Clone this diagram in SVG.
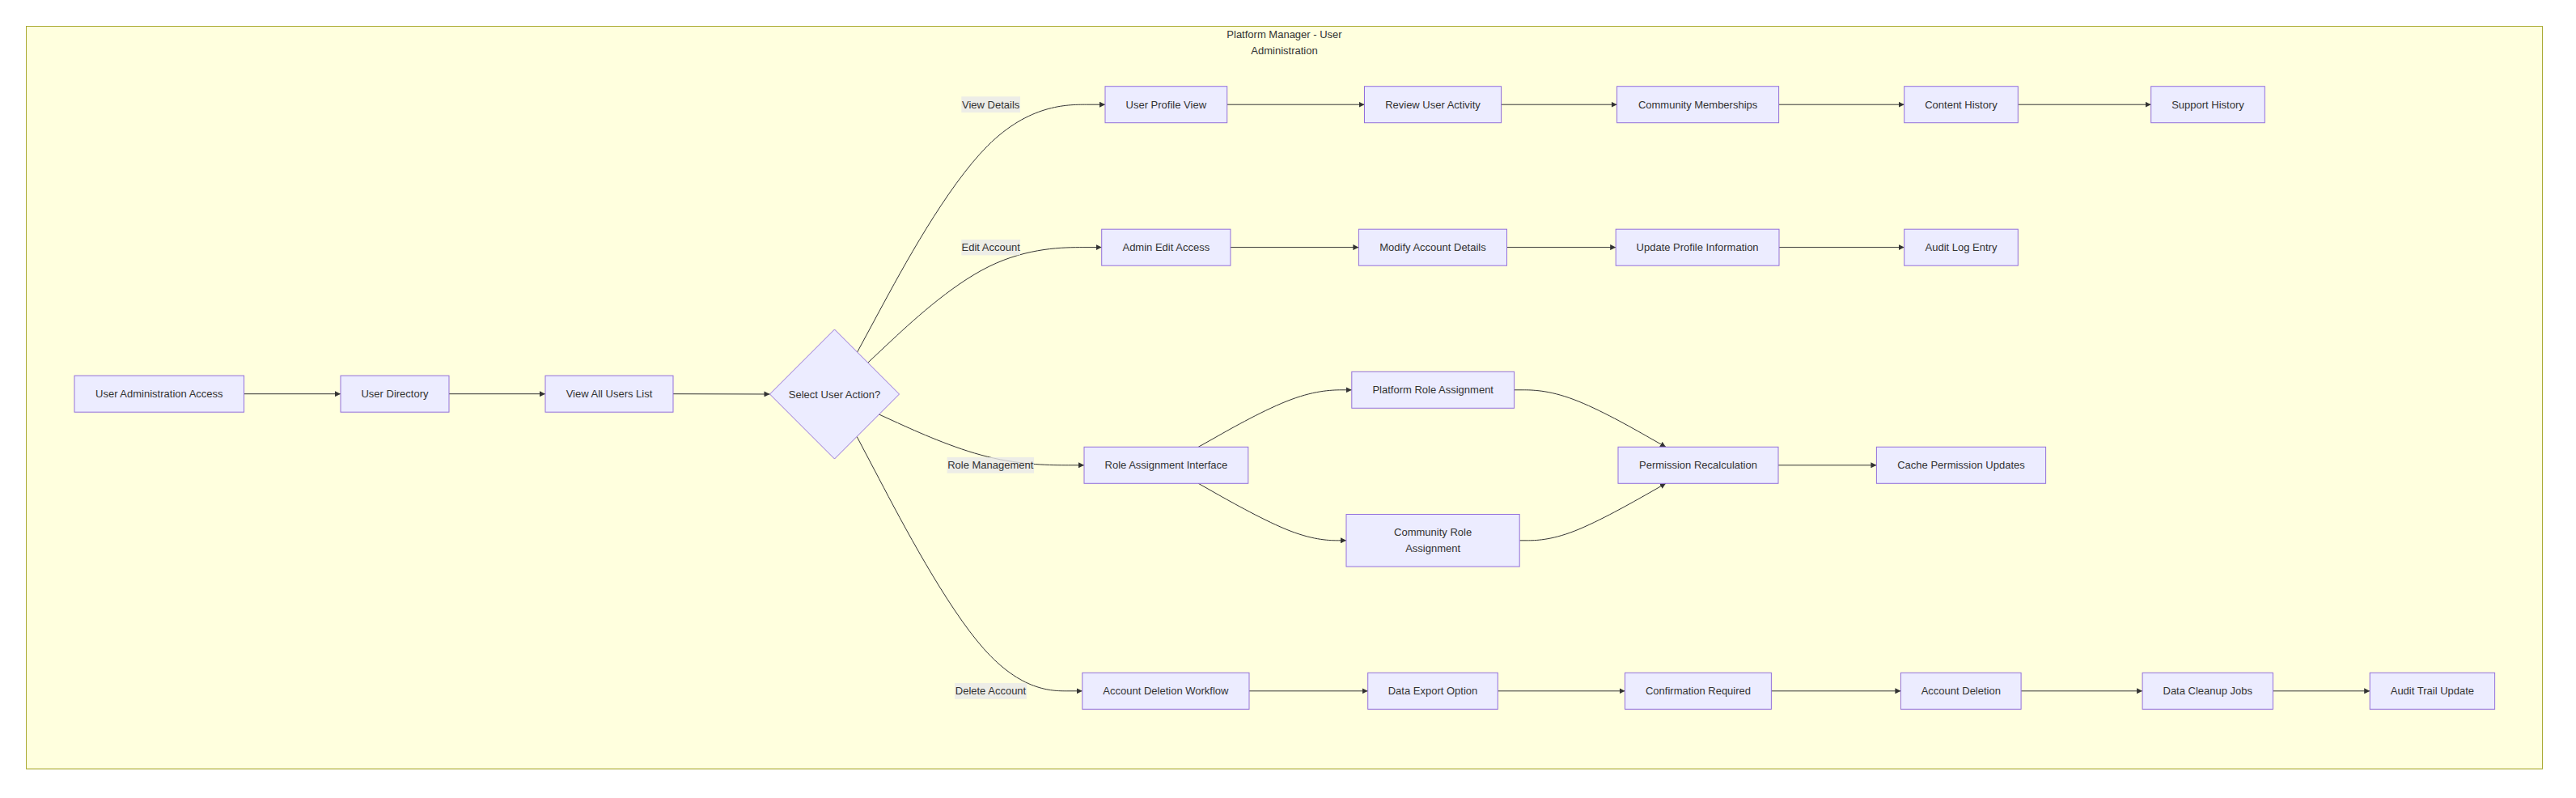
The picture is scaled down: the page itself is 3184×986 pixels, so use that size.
<svg xmlns="http://www.w3.org/2000/svg" width="3184" height="986" viewBox="0 0 3184 986">
<style>
  .cluster { fill: #ffffde; stroke: #aaaa33; stroke-width: 1; }
  .node rect, .node polygon { fill: #ECECFF; stroke: #9370DB; stroke-width: 1; }
  text { font-family: "Liberation Sans", Arial, sans-serif; font-size: 13px; fill: #333333; text-anchor: middle; }
  .edge { fill: none; stroke: #333333; stroke-width: 1; marker-end: url(#arrow); }
  .elbl { fill: rgba(232,232,232,0.8); }
</style>
<defs>
  <marker id="arrow" viewBox="0 0 10 10" refX="10" refY="5" markerWidth="7" markerHeight="7" markerUnits="userSpaceOnUse" orient="auto">
    <path d="M0,0 L10,5 L0,10 z" fill="#333333"/>
  </marker>
</defs>
<rect width="3184" height="986" fill="#ffffff"/>
<g id="cluster-platform">
  <rect class="cluster" x="32.5" y="32.5" width="3110" height="917.5"/>
  <text x="1587.5" y="47.3">Platform Manager - User</text>
  <text x="1587.5" y="67.3">Administration</text>
</g>
<g id="connectors">
  <path class="edge" d="M301.6,486.7 L421,486.7"/>
  <path class="edge" d="M555,486.7 L674,486.7"/>
  <path class="edge" d="M832,486.7 L951.5,487"/>
  <path class="edge" d="M1059.6,435.1 L1087.1,384.1 C1114.6,333.1 1169.7,231.2 1220.7,180.2 C1271.8,129.2 1318.9,129.2 1342.5,129.2 L1366,129.2"/>
  <path class="edge" d="M1072.7,448.2 L1098,424.4 C1123.4,400.7 1174,353.1 1222.2,329.4 C1270.4,305.6 1316,305.6 1338.9,305.6 L1361.7,305.6"/>
  <path class="edge" d="M1086.5,512 L1109.5,522.5 C1132.4,532.9 1178.4,553.9 1220.6,564.3 C1262.9,574.8 1301.4,574.8 1320.7,574.8 L1340,574.8"/>
  <path class="edge" d="M1059.1,539.4 L1086.7,591.8 C1114.2,644.2 1169.4,749 1215.8,801.4 C1262.3,853.8 1300,853.8 1318.9,853.8 L1337.8,853.8"/>
  <path class="edge" d="M1516.7,129.2 L1686.5,129.2"/>
  <path class="edge" d="M1855.5,129.2 L1998.6,129.2"/>
  <path class="edge" d="M2198.6,129.2 L2353.7,129.2"/>
  <path class="edge" d="M2494.3,129.2 L2658.7,129.2"/>
  <path class="edge" d="M1520.9,305.6 L1679.4,305.6"/>
  <path class="edge" d="M1862.5,305.6 L1997.2,305.6"/>
  <path class="edge" d="M2199,305.6 L2353.7,305.6"/>
  <path class="edge" d="M1481.2,552.3 L1502,540.6 C1522.8,528.8 1564.4,505.3 1596,493.6 C1627.6,481.8 1649.2,481.8 1660,481.8 L1670.8,481.8"/>
  <path class="edge" d="M1481.2,597.3 L1502,609.1 C1522.8,620.8 1564.4,644.3 1594.9,656.1 C1625.3,667.8 1644.7,667.8 1654.3,667.8 L1664,667.8"/>
  <path class="edge" d="M1871.6,481.8 L1882.2,481.8 C1892.7,481.8 1913.9,481.8 1945.1,493.6 C1976.3,505.3 2017.7,528.8 2038.3,540.6 L2059,552.3"/>
  <path class="edge" d="M1878.2,667.8 L1887.7,667.8 C1897.1,667.8 1916.1,667.8 1946.2,656.1 C1976.3,644.3 2017.7,620.8 2038.3,609.1 L2059,597.3"/>
  <path class="edge" d="M2198,574.8 L2319.4,574.8"/>
  <path class="edge" d="M1544,853.8 L1690.7,853.8"/>
  <path class="edge" d="M1851.3,853.8 L2008.5,853.8"/>
  <path class="edge" d="M2189.4,853.8 L2349.4,853.8"/>
  <path class="edge" d="M2498.1,853.8 L2648.1,853.8"/>
  <path class="edge" d="M2809.4,853.8 L2929.2,853.8"/>
</g>
<g id="edge-labels">
  <g id="lbl-view-details"><rect class="elbl" x="1188.3" y="119.3" width="72.7" height="19.7"/><text x="1224.7" y="133.8">View Details</text></g>
  <g id="lbl-edit-account"><rect class="elbl" x="1188.3" y="296" width="72.7" height="19.4"/><text x="1224.7" y="310.2">Edit Account</text></g>
  <g id="lbl-role-management"><rect class="elbl" x="1170.7" y="565" width="107.3" height="19.7"/><text x="1224.3" y="579.4">Role Management</text></g>
  <g id="lbl-delete-account"><rect class="elbl" x="1180" y="844" width="89" height="19.7"/><text x="1224.5" y="858.4">Delete Account</text></g>
</g>
<g id="n-uaa" class="node"><rect x="92" y="464.2" width="209.6" height="45"/><text x="196.8" y="491.3">User Administration Access</text></g>
<g id="n-ud" class="node"><rect x="421" y="464.2" width="134" height="45"/><text x="488" y="491.3">User Directory</text></g>
<g id="n-vaul" class="node"><rect x="674" y="464.2" width="158" height="45"/><text x="753" y="491.3">View All Users List</text></g>
<g id="n-sua" class="node"><polygon points="1031.5,407 1111.5,487 1031.5,567 951.5,487"/><text x="1031.5" y="491.6">Select User Action?</text></g>
<g id="n-upv" class="node"><rect x="1366" y="106.7" width="150.7" height="45"/><text x="1441.3" y="133.8">User Profile View</text></g>
<g id="n-rua" class="node"><rect x="1686.5" y="106.7" width="169" height="45"/><text x="1771" y="133.8">Review User Activity</text></g>
<g id="n-cm" class="node"><rect x="1998.6" y="106.7" width="200" height="45"/><text x="2098.6" y="133.8">Community Memberships</text></g>
<g id="n-ch" class="node"><rect x="2353.7" y="106.7" width="140.6" height="45"/><text x="2424" y="133.8">Content History</text></g>
<g id="n-sh" class="node"><rect x="2658.7" y="106.7" width="140.6" height="45"/><text x="2729" y="133.8">Support History</text></g>
<g id="n-aea" class="node"><rect x="1361.7" y="283.2" width="159.2" height="45"/><text x="1441.3" y="310.2">Admin Edit Access</text></g>
<g id="n-mad" class="node"><rect x="1679.4" y="283.2" width="183.1" height="45"/><text x="1771" y="310.2">Modify Account Details</text></g>
<g id="n-upi" class="node"><rect x="1997.2" y="283.2" width="201.8" height="45"/><text x="2098.1" y="310.2">Update Profile Information</text></g>
<g id="n-ale" class="node"><rect x="2353.7" y="283.2" width="140.6" height="45"/><text x="2424" y="310.2">Audit Log Entry</text></g>
<g id="n-rai" class="node"><rect x="1340" y="552.3" width="202.8" height="45"/><text x="1441.4" y="579.4">Role Assignment Interface</text></g>
<g id="n-pra" class="node"><rect x="1670.8" y="459.3" width="200.8" height="45"/><text x="1771.2" y="486.4">Platform Role Assignment</text></g>
<g id="n-cra" class="node"><rect x="1664" y="635.5" width="214.2" height="64.6"/><text x="1771.1" y="662.3">Community Role</text><text x="1771.1" y="682.3">Assignment</text></g>
<g id="n-pr" class="node"><rect x="2000" y="552.3" width="198" height="45"/><text x="2099" y="579.4">Permission Recalculation</text></g>
<g id="n-cpu" class="node"><rect x="2319.4" y="552.3" width="209.2" height="45"/><text x="2424" y="579.4">Cache Permission Updates</text></g>
<g id="n-adw" class="node"><rect x="1337.8" y="831.3" width="206.2" height="45"/><text x="1440.9" y="858.4">Account Deletion Workflow</text></g>
<g id="n-deo" class="node"><rect x="1690.7" y="831.3" width="160.6" height="45"/><text x="1771" y="858.4">Data Export Option</text></g>
<g id="n-cr" class="node"><rect x="2008.5" y="831.3" width="180.9" height="45"/><text x="2099" y="858.4">Confirmation Required</text></g>
<g id="n-ad" class="node"><rect x="2349.4" y="831.3" width="148.7" height="45"/><text x="2423.8" y="858.4">Account Deletion</text></g>
<g id="n-dcj" class="node"><rect x="2648.1" y="831.3" width="161.3" height="45"/><text x="2728.8" y="858.4">Data Cleanup Jobs</text></g>
<g id="n-atu" class="node"><rect x="2929.2" y="831.3" width="154.4" height="45"/><text x="3006.4" y="858.4">Audit Trail Update</text></g>
</svg>
